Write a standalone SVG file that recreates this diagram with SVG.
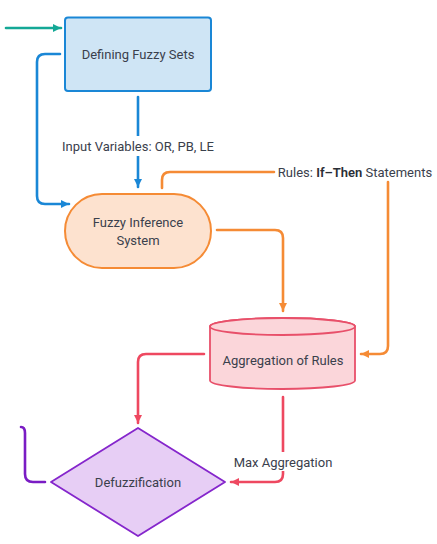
<svg xmlns="http://www.w3.org/2000/svg" width="437" height="544" viewBox="0 0 437 544">
<style>
text{font-family:Roboto,"Liberation Sans",sans-serif;font-size:13px;fill:#3a404c;text-anchor:middle;dominant-baseline:central}
.e{fill:none;stroke-width:2.6;stroke-linecap:round;stroke-linejoin:round}
</style>
<defs>
<marker id="aT" markerUnits="userSpaceOnUse" markerWidth="10" markerHeight="10" refX="8" refY="5" orient="auto"><path d="M0,1 L8,5 L0,9 Z" fill="#14a896"/></marker>
<marker id="aB" markerUnits="userSpaceOnUse" markerWidth="10" markerHeight="10" refX="8" refY="5" orient="auto"><path d="M0,1 L8,5 L0,9 Z" fill="#1a87d6"/></marker>
<marker id="aO" markerUnits="userSpaceOnUse" markerWidth="10" markerHeight="10" refX="8" refY="5" orient="auto"><path d="M0,1 L8,5 L0,9 Z" fill="#f58b35"/></marker>
<marker id="aR" markerUnits="userSpaceOnUse" markerWidth="10" markerHeight="10" refX="8" refY="5" orient="auto"><path d="M0,1 L8,5 L0,9 Z" fill="#ee4860"/></marker>
</defs>
<rect width="437" height="544" fill="#fff"/>
<g id="connectors">
<path class="e" d="M6 28 L61 28" stroke="#14a896" marker-end="url(#aT)"/>
<path class="e" d="M60 54 L45 54 Q37 54 37 62 L37 196 Q37 204 45 204 L69 204" stroke="#1a87d6" marker-end="url(#aB)"/>
<path class="e" d="M138 97 L138 187" stroke="#1a87d6" marker-end="url(#aB)"/>
<rect x="56" y="136" width="162" height="20" fill="#fff"/>
<text x="138" y="146">Input Variables: OR, PB, LE</text>
<path class="e" d="M162 188 L162 180 Q162 172 170 172 L274 172" stroke="#f58b35"/>
<text x="355" y="172">Rules: <tspan font-weight="600" fill="#2a2e36">If–Then</tspan> Statements</text>
<path class="e" d="M388 182 L388 346 Q388 354 380 354 L361 354" stroke="#f58b35" marker-end="url(#aO)"/>
<path class="e" d="M217 230 L275 230 Q283 230 283 238 L283 311" stroke="#f58b35" marker-end="url(#aO)"/>
<path class="e" d="M204 354 L146 354 Q138 354 138 362 L138 423" stroke="#ee4860" marker-end="url(#aR)"/>
<path class="e" d="M283 397 L283 474 Q283 482 275 482 L231 482" stroke="#ee4860" marker-end="url(#aR)"/>
<rect x="229" y="452" width="106" height="19" fill="#fff"/>
<text x="283" y="462">Max Aggregation</text>
<path class="e" d="M21 427 Q25 427 25 433 L25 474 Q25 482 33 482 L45 482" stroke="#7a1cc4"/>
</g>
<g id="defining-fuzzy-sets">
<rect x="65" y="17.5" width="146" height="73.5" rx="3" fill="#cfe5f5" stroke="#1a87d6" stroke-width="2"/>
<text x="138" y="54">Defining Fuzzy Sets</text>
</g>
<g id="fuzzy-inference-system">
<rect x="65" y="194" width="146" height="74" rx="37" fill="#fde2cf" stroke="#f58b35" stroke-width="2"/>
<text x="138" y="222">Fuzzy Inference</text>
<text x="138" y="240">System</text>
</g>
<g id="aggregation-of-rules">
<path d="M210 326.5 A72.5 8.5 0 0 1 355 326.5 L355 380.5 A72.5 8.5 0 0 1 210 380.5 Z" fill="#fbd6da" stroke="#e8506a" stroke-width="1.8"/>
<ellipse cx="282.5" cy="326.5" rx="72.5" ry="8.5" fill="#fbd6da" stroke="#e8506a" stroke-width="1.8"/>
<text x="283" y="360">Aggregation of Rules</text>
</g>
<g id="defuzzification">
<path d="M138 428 L225 482 L138 536 L51 482 Z" fill="#e7cef5" stroke="#8526cc" stroke-width="1.8" stroke-linejoin="round"/>
<text x="138" y="482">Defuzzification</text>
</g>
</svg>
